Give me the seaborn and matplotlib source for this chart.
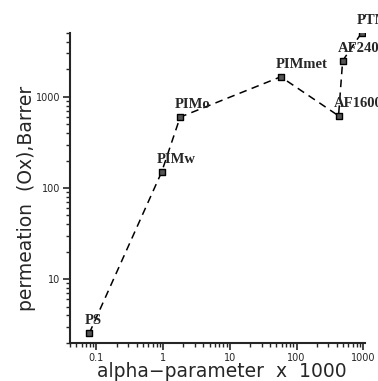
import matplotlib
matplotlib.use("Agg")
import matplotlib.pyplot as plt
import matplotlib.ticker as mticker
import seaborn as sns
import pandas as pd

labels = ["PS", "PIMw", "PIMo", "PIMmet", "AF1600", "AF2400", "PTMSP"]
alpha = [0.078, 0.95, 1.8, 58, 427, 492, 950]
perm = [2.55, 150, 600, 1660, 620, 2490, 5050]

df = pd.DataFrame({"alpha": alpha, "perm": perm, "label": labels})

sns.set_style("ticks")
fig = plt.figure(figsize=(3.78, 3.81), dpi=100)
ax = fig.add_axes([0.185, 0.100, 0.781, 0.813])

sns.lineplot(data=df, x="alpha", y="perm", sort=False, color="black",
             linestyle=(0, (5, 3.5)), linewidth=1.1, ax=ax, estimator=None)
sns.scatterplot(data=df, x="alpha", y="perm", marker="s", s=22,
                color="#555555", edgecolor="black", linewidth=1.0, ax=ax, zorder=3)

ax.set_xscale("log")
ax.set_yscale("log")
ax.set_xlim(0.04, 1070)
ax.set_ylim(2.0, 5000)

for lab, xv, yv in zip(labels, alpha, perm):
    ax.annotate(lab, (xv, yv), xytext=(-5, 9), textcoords="offset pixels",
                ha="left", va="baseline", fontsize=10.5, fontweight="bold",
                family="Liberation Serif", annotation_clip=False)

ax.xaxis.set_major_locator(mticker.FixedLocator([0.1, 1, 10, 100, 1000]))
ax.xaxis.set_major_formatter(mticker.FixedFormatter(["0.1", "1", "10", "100", "1000"]))
ax.xaxis.set_minor_locator(mticker.LogLocator(base=10, subs=range(2, 10), numticks=20))
ax.xaxis.set_minor_formatter(mticker.NullFormatter())
ax.yaxis.set_major_locator(mticker.FixedLocator([10, 100, 1000]))
ax.yaxis.set_major_formatter(mticker.FixedFormatter(["10", "100", "1000"]))
ax.yaxis.set_minor_locator(mticker.LogLocator(base=10, subs=range(2, 10), numticks=20))
ax.yaxis.set_minor_formatter(mticker.NullFormatter())

ax.tick_params(which="major", direction="out", length=5, width=1.2, labelsize=7, pad=2)
ax.tick_params(which="minor", direction="out", length=3, width=1.0)

for s in ["top", "right"]:
    ax.spines[s].set_visible(False)
for s in ["left", "bottom"]:
    ax.spines[s].set_linewidth(1.5)

ax.set_xlabel("alpha\u2212parameter  x  1000", fontsize=13.5)
ax.xaxis.set_label_coords(0.515, -0.062)
ax.set_ylabel("permeation  (Ox),Barrer", fontsize=13.5, va="center")
ax.yaxis.set_label_coords(-0.146, 0.468)

fig.savefig("out.png", dpi=100)
